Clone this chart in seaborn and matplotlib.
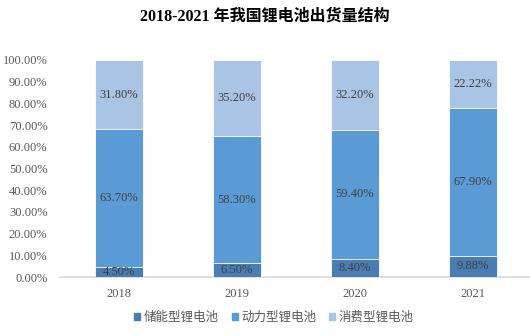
import matplotlib
matplotlib.use("Agg")
import matplotlib.pyplot as plt
import seaborn as sns
import pandas as pd
import numpy as np

years = ["2018", "2019", "2020", "2021"]
series_names = ["储能型锂电池", "动力型锂电池", "消费型锂电池"]
storage = [4.50, 6.50, 8.40, 9.88]
power = [63.70, 58.30, 59.40, 67.90]
consumer = [31.80, 35.20, 32.20, 22.22]
colors = ["#4a7db3", "#5b9bd5", "#a9c4e5"]

sns.set_theme(style="white")
plt.rcParams["font.family"] = ["Liberation Serif", "Noto Sans CJK SC"]
plt.rcParams["axes.unicode_minus"] = False

fig = plt.figure(figsize=(5.30, 3.36), dpi=100)
ax = fig.add_axes([60 / 530, 1 - 277 / 336, 472 / 530, 217 / 336])

values = [storage, power, consumer]
df = pd.DataFrame({"year": years})
bottom = np.zeros(len(years))
for k, (name, vals, col) in enumerate(zip(series_names, values, colors)):
    tops = bottom + np.array(vals)
    df["top"] = tops
    sns.barplot(data=df, x="year", y="top", color=col, width=0.4,
                ax=ax, saturation=1, edgecolor="white", linewidth=0.6,
                label=name, zorder=3 - k, legend=False)
    for i, v in enumerate(vals):
        ax.text(i, bottom[i] + v / 2, f"{v:.2f}%", ha="center", va="center",
                fontsize=9, color="#404040", zorder=10)
    bottom = tops

if ax.get_legend() is not None:
    ax.get_legend().remove()

ax.set_xlim(-0.5, 3.5)
ax.set_ylim(0, 100)
ax.set_yticks(np.arange(0, 101, 10))
ax.set_yticklabels([f"{t:.2f}%" for t in np.arange(0, 101, 10)])
ax.set_xlabel("")
ax.set_ylabel("")
for s in ["top", "right", "left"]:
    ax.spines[s].set_visible(False)
ax.spines["bottom"].set_color("#d9d9d9")
ax.tick_params(axis="both", length=0, labelsize=9, colors="#595959")
ax.tick_params(axis="y", pad=9)
ax.tick_params(axis="x", pad=8)

fig.text(0.5, 1 - 17 / 336, "2018-2021 年我国锂电池出货量结构", ha="center", va="center",
         fontsize=11.5, fontweight="bold", color="#000000")

handles = [plt.Rectangle((0, 0), 1, 1, color=c) for c in colors]
leg = fig.legend(handles, series_names, loc="center", bbox_to_anchor=(274 / 530, 1 - 318 / 336),
                 ncol=3, frameon=False, fontsize=9, handlelength=0.5, handleheight=0.5,
                 handletextpad=0.3, columnspacing=1.0)
for t in leg.get_texts():
    t.set_color("#595959")

fig.savefig("out.png", dpi=100)
